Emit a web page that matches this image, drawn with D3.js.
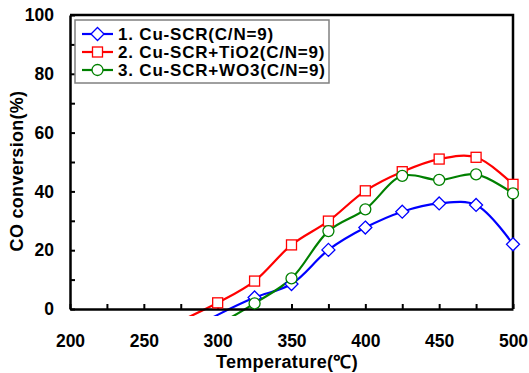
<!DOCTYPE html>
<html>
<head>
<meta charset="utf-8">
<script src="https://cdn.jsdelivr.net/npm/d3@7"></script>
<style>
  body { margin: 0; background: #fff; }
  svg text { font-family: "Liberation Sans", Arial, sans-serif; font-weight: bold; fill: #000; }
</style>
</head>
<body>
<div class="chart"></div>
<script>
// temperatures (C); the points below 0 are only there so the curves run under the axis
var temps = [275, 300, 325, 350, 375, 400, 425, 450, 475, 500];
var cuScr = [-9, -2, 3.9, 8.5, 20.1, 27.7, 33.1, 35.9, 35.4, 22.0];
var cuScrTiO2 = [-4, 2.1, 9.5, 21.8, 29.9, 40.2, 46.7, 51.0, 51.6, 42.4];
var cuScrWO3 = [-13, -5.5, 1.9, 10.4, 26.5, 33.9, 45.3, 43.9, 45.8, 39.3];

var seriesNames = ["1. Cu-SCR(C/N=9)", "2. Cu-SCR+TiO2(C/N=9)", "3. Cu-SCR+WO3(C/N=9)"];
var xTicks = [200, 225, 250, 275, 300, 325, 350, 375, 400, 425, 450, 475, 500];
var yTicks = [0, 10, 20, 30, 40, 50, 60, 70, 80, 90, 100];

var series = [
    {name: seriesNames[0], values: cuScr, color: "#0000ff", marker: "diamond"},
    {name: seriesNames[1], values: cuScrTiO2, color: "#ff0000", marker: "square"},
    {name: seriesNames[2], values: cuScrWO3, color: "#008000", marker: "circle"}
];

var margin = {top: 15, right: 16, bottom: 64, left: 70},
    width = 529 - margin.left - margin.right,
    height = 373 - margin.top - margin.bottom;

var svg = d3.select(".chart")
    .append("svg")
        .attr("width", 529)
        .attr("height", 373)
    .append("g")
        .attr("transform", "translate(" + margin.left + "," + margin.top + ")");

var x = d3.scaleLinear().domain([200, 500]).range([0, width]);
var y = d3.scaleLinear().domain([0, 100]).range([height, 0]);

// lines are allowed a few px under the x axis, like in the original
svg.append("clipPath").attr("id", "plotClip")
    .append("rect").attr("x", 0).attr("y", 0).attr("width", width).attr("height", height + 7);

// frame: top and right
svg.append("path")
    .attr("d", "M0,0H" + width + "V" + height)
    .attr("fill", "none").attr("stroke", "#000").attr("stroke-width", 2.5);

// curves
var line = d3.line()
    .x(function(d) { return x(d.t); })
    .y(function(d) { return y(d.v); })
    .curve(d3.curveCatmullRom.alpha(0.5));

var plot = svg.append("g").attr("clip-path", "url(#plotClip)");

series.forEach(function(s) {
    var pts = temps.map(function(t, i) { return {t: t, v: s.values[i]}; });
    plot.append("path")
        .attr("fill", "none")
        .attr("stroke", s.color)
        .attr("stroke-width", 2.2)
        .attr("d", line(pts));
});

// axes
var xAxis = d3.axisBottom(x)
    .tickValues(xTicks)
    .tickSizeInner(-5).tickSizeOuter(0).tickPadding(26)
    .tickFormat(function(d) { return d % 50 === 0 ? d : ""; });
var gx = svg.append("g").attr("transform", "translate(0," + height + ")").call(xAxis);

var yAxis = d3.axisLeft(y)
    .tickValues(yTicks)
    .tickSizeInner(-5).tickSizeOuter(0).tickPadding(16)
    .tickFormat(function(d) { return d % 20 === 0 ? d : ""; });
var gy = svg.append("g").call(yAxis);

[gx, gy].forEach(function(g) {
    g.select(".domain").attr("stroke", "#000").attr("stroke-width", 2.5);
    g.selectAll(".tick line").attr("stroke", "#000").attr("stroke-width", 2);
    g.selectAll(".tick text").style("font-size", "17.5px")
        .style("font-family", "'Liberation Sans', Arial, sans-serif").style("font-weight", "bold");
});

// markers drawn on top of the axes
function drawMarker(g, type, cx, cy, color) {
    if (type === "diamond") {
        g.append("path")
            .attr("d", "M" + cx + "," + (cy - 6.5) + "L" + (cx + 6.5) + "," + cy + "L" + cx + "," + (cy + 6.5) + "L" + (cx - 6.5) + "," + cy + "Z")
            .attr("fill", "#fff").attr("stroke", color).attr("stroke-width", 1.3);
    } else if (type === "square") {
        g.append("rect")
            .attr("x", cx - 5).attr("y", cy - 5).attr("width", 10).attr("height", 10)
            .attr("fill", "#fff").attr("stroke", color).attr("stroke-width", 1.3);
    } else {
        g.append("circle")
            .attr("cx", cx).attr("cy", cy).attr("r", 5.5)
            .attr("fill", "#fff").attr("stroke", color).attr("stroke-width", 1.3);
    }
}

var markers = svg.append("g");
series.forEach(function(s) {
    temps.forEach(function(t, i) {
        if (s.values[i] < 0) return;
        drawMarker(markers, s.marker, x(t), y(s.values[i]), s.color);
    });
});

// axis titles
svg.append("text")
    .attr("transform", "translate(-47," + (height / 2 + 9) + ") rotate(-90)")
    .attr("text-anchor", "middle")
    .style("font-size", "18px")
    .style("letter-spacing", "0.3px")
    .text("CO conversion(%)");

svg.append("text")
    .attr("x", 217).attr("y", height + 59)
    .attr("text-anchor", "middle")
    .style("font-size", "18px")
    .style("letter-spacing", "0.3px")
    .text("Temperature(\u2103)");

// legend
var legend = svg.append("g").attr("transform", "translate(5,5)");
legend.append("rect")
    .attr("width", 254).attr("height", 63)
    .attr("fill", "#fff").attr("stroke", "#808080").attr("stroke-width", 1.5);

series.forEach(function(s, i) {
    var ly = 14 + i * 18;
    legend.append("line")
        .attr("x1", 7).attr("x2", 38).attr("y1", ly).attr("y2", ly)
        .attr("stroke", s.color).attr("stroke-width", 2.2);
    drawMarker(legend, s.marker, 22.5, ly, s.color);
    legend.append("text")
        .attr("x", 43).attr("y", ly + 6)
        .style("font-size", "17px")
        .style("letter-spacing", "0.8px")
        .text(s.name);
});
</script>
</body>
</html>
